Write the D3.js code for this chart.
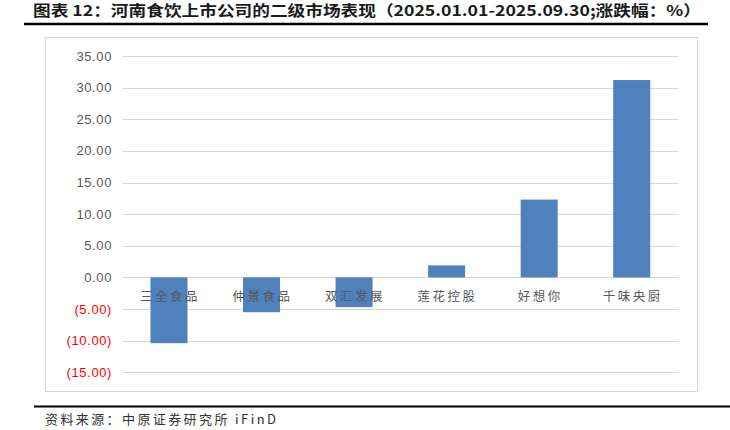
<!DOCTYPE html>
<html><head><meta charset="utf-8">
<script src="https://cdn.jsdelivr.net/npm/d3@7"></script>
<style>
body{margin:0;background:#fff;}
svg{display:block;}
</style></head>
<body>
<svg id="c" width="730" height="430"></svg>
<script>
const titleText = "图表 12：河南食饮上市公司的二级市场表现（2025.01.01-2025.09.30;涨跌幅：%）";
const sourceText = "资料来源：中原证券研究所 iFinD";
const categories = ["三全食品","仲景食品","双汇发展","莲花控股","好想你","千味央厨"];
const values = [-10.4, -5.5, -4.7, 1.9, 12.3, 31.2];
const yTicks = [35,30,25,20,15,10,5,0,-5,-10,-15];

const svg = d3.select("#c");
const fontCJK = "'Noto Sans CJK SC','Noto Sans',sans-serif";

// title
svg.append("text").attr("x", 33).attr("y", 16)
  .attr("font-family", fontCJK).attr("font-size", 15).attr("font-weight", "bold")
  .attr("fill", "#1a1a1a").attr("textLength", 668).attr("lengthAdjust","spacingAndGlyphs")
  .text(titleText);
svg.append("line").attr("x1", 24).attr("x2", 708).attr("y1", 24).attr("y2", 24)
  .attr("stroke", "#000").attr("stroke-width", 2.5);

// chart frame
svg.append("rect").attr("x", 45.5).attr("y", 37.5).attr("width", 652).attr("height", 354)
  .attr("fill", "none").attr("stroke", "#d9d9d9").attr("stroke-width", 1);

const x = d3.scaleBand().domain(categories).range([122.7, 678]).paddingInner(0.6).paddingOuter(0.3);
const y = d3.scaleLinear().domain([-15, 35]).range([372.3, 56]);

// gridlines
svg.append("g").selectAll("line").data(yTicks).join("line")
  .attr("x1", 122.7).attr("x2", 678)
  .attr("y1", d => Math.round(y(d)) + 0.5).attr("y2", d => Math.round(y(d)) + 0.5)
  .attr("stroke", "#d9d9d9").attr("stroke-width", 1);

// y tick labels
const fmt = d => d < 0 ? "(" + d3.format(".2f")(-d) + ")" : d3.format(".2f")(d);
svg.append("g").selectAll("text").data(yTicks).join("text")
  .attr("x", 112).attr("y", d => y(d)).attr("dy", "0.35em")
  .attr("text-anchor", "end")
  .attr("font-family", "'Liberation Sans','DejaVu Sans',sans-serif").attr("font-size", 13)
  .attr("letter-spacing", 0.6)
  .attr("fill", d => d < 0 ? "#ff0000" : "#595959")
  .text(fmt);

// bars
svg.append("g").selectAll("rect").data(values).join("rect")
  .attr("x", (d, i) => x(categories[i]))
  .attr("width", x.bandwidth())
  .attr("y", d => y(Math.max(0, d)))
  .attr("height", d => Math.abs(y(d) - y(0)))
  .attr("fill", "#4f81bd");

// category labels
svg.append("g").selectAll("text").data(categories).join("text")
  .attr("x", d => x(d) + x.bandwidth() / 2 + 1).attr("y", y(0) + 19)
  .attr("dy", "0.35em")
  .attr("text-anchor", "middle")
  .attr("font-family", fontCJK).attr("font-size", 12.5)
  .attr("letter-spacing", 2.5)
  .attr("fill", "#595959")
  .text(d => d);

// footer
svg.append("line").attr("x1", 34).attr("x2", 730).attr("y1", 406.5).attr("y2", 406.5)
  .attr("stroke", "#000").attr("stroke-width", 2);
svg.append("text").attr("x", 45).attr("y", 424)
  .attr("font-family", fontCJK).attr("font-size", 13).attr("fill", "#333")
  .attr("letter-spacing", 2.4)
  .text(sourceText);
</script>
</body></html>
